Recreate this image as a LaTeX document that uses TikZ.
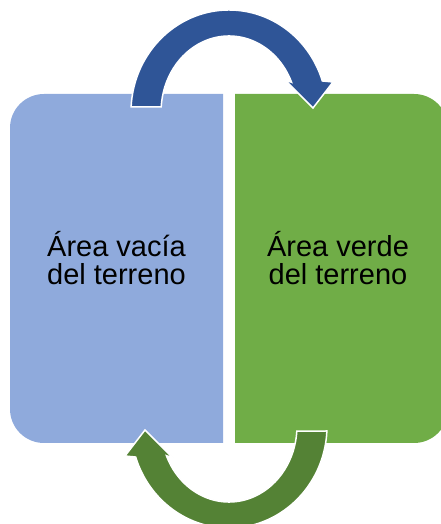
\documentclass[tikz,border=0pt]{standalone}
\usepackage{fontspec}
\setmainfont{Liberation Sans}
\definecolor{boxblue}{HTML}{8FAADC}
\definecolor{boxgreen}{HTML}{70AD47}
\definecolor{arrblue}{HTML}{2F5597}
\definecolor{arrgreen}{HTML}{548235}
\begin{document}
\begin{tikzpicture}[x=1pt,y=1pt,
  boxtext/.style={align=center,font=\fontsize{29}{28.5}\selectfont,text=black},
  arrowshape/.style={draw=white,line width=1.5pt,line join=miter}]
\useasboundingbox (0,0) rectangle (441,524);
\clip (0,0) rectangle (441,524);
% left box
\fill[boxblue] (223,81) -- (44,81) arc[start angle=270,end angle=180,radius=34]
  -- (10,396) arc[start angle=180,end angle=90,radius=34] -- (223,430) -- cycle;
% right box
\fill[boxgreen] (235,81) -- (414,81) arc[start angle=-90,end angle=0,radius=34]
  -- (448,396) arc[start angle=0,end angle=90,radius=34] -- (235,430) -- cycle;
% top arrow
\fill[arrblue,arrowshape] (131.1,417) arc[start angle=177.2,end angle=17.7,x radius=98,y radius=102]
  -- (333,442) -- (313,416) -- (285,444) -- (291.6,441.7)
  arc[start angle=23,end angle=176.2,x radius=68,y radius=76] -- cycle;
% bottom arrow
\fill[arrgreen,arrowshape] (326.9,93) arc[start angle=357.2,end angle=197.7,x radius=98,y radius=102]
  -- (125,68) -- (145,94) -- (173,66) -- (166.4,68.3)
  arc[start angle=203,end angle=356.2,x radius=68,y radius=76] -- cycle;
\node[boxtext] (left) at (116.5,266) {Área vacía\\del terreno};
\node[boxtext] (right) at (338,266) {Área verde\\del terreno};
\end{tikzpicture}
\end{document}
